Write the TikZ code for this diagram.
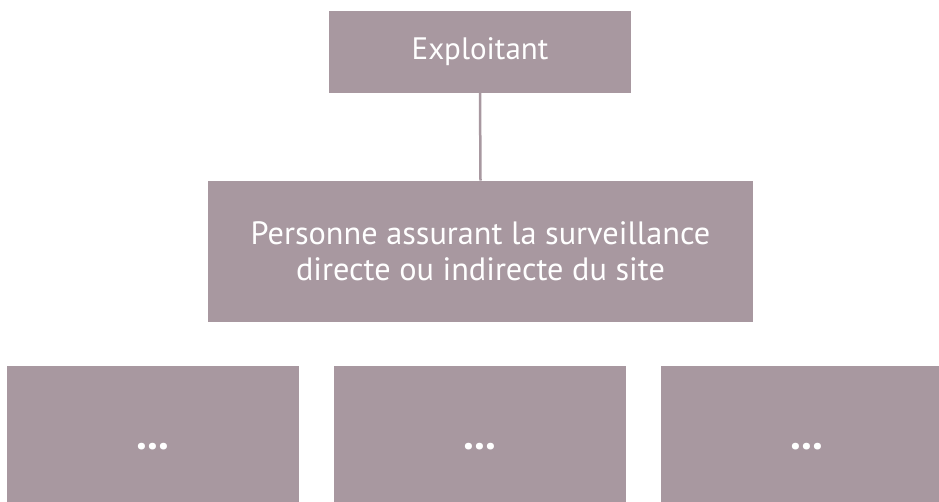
\documentclass[tikz,border=0pt]{standalone}
\usepackage{fontspec}
\setmainfont{PT Sans}
\definecolor{boxfill}{RGB}{168,152,160}
\tikzset{
  orgbox/.style={fill=boxfill, draw=none, text=white, align=center, inner sep=0pt, font=\fontsize{31}{36}\selectfont},
  bigtext/.style={font=\fontsize{32.3}{35.5}\selectfont},
  dotsfont/.style={font=\fontsize{44}{44}\selectfont\bfseries},
  link/.style={draw=boxfill, line width=2.5pt}
}
\begin{document}
\begin{tikzpicture}[x=1pt,y=-1pt]
\useasboundingbox (0,0) rectangle (939,501);
\clip (0,0) rectangle (939,501);
\node[orgbox, minimum width=302pt, minimum height=82pt] (top) at (480,51.5) {Exploitant};
\node[orgbox, bigtext, minimum width=545pt, minimum height=141pt] (mid) at (480.5,251.2) {Personne assurant la surveillance\\directe ou indirecte du site};
\node[orgbox, dotsfont, minimum width=292pt, minimum height=162pt] (b1) at (153,447) {...};
\node[orgbox, dotsfont, minimum width=292pt, minimum height=162pt] (b2) at (480,447) {...};
\node[orgbox, dotsfont, minimum width=292pt, minimum height=162pt] (b3) at (807,447) {...};
\draw[link] (top.south) -- (mid.north);
\end{tikzpicture}
\end{document}
